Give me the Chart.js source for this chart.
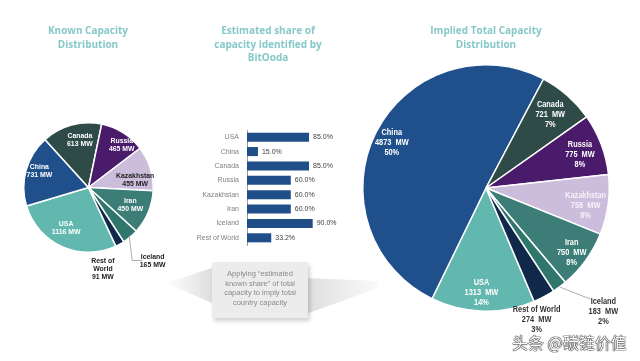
<!DOCTYPE html>
<html lang="en">
<head>
    <meta charset="UTF-8">
    <title>Capacity Distribution</title>
    <script src="https://cdn.jsdelivr.net/npm/chart.js@4.4.0/dist/chart.umd.min.js"></script>
    <style>
        body {
            margin: 0;
            background: #ffffff;
        }
        #wrap {
            position: relative;
            width: 640px;
            height: 361px;
            overflow: hidden;
            background: #ffffff;
        }
        #wrap canvas, #wrap svg {
            position: absolute;
            left: 0;
            top: 0;
        }
        .title {
            position: absolute;
            width: 200px;
            text-align: center;
            font-family: 'Open Sans', sans-serif;
            font-weight: bold;
            font-size: 10px;
            line-height: 13.5px;
            color: #86c8c8;
        }
        .callout {
            position: absolute;
            left: 212px;
            top: 262px;
            width: 96px;
            height: 56px;
            background: #ececec;
            box-shadow: 2px 3px 4px rgba(0, 0, 0, 0.18);
            box-sizing: border-box;
            padding-top: 7px;
            text-align: center;
            font-family: 'Liberation Sans', Arial, sans-serif;
            font-size: 7.5px;
            line-height: 9.7px;
            color: #8a8a8a;
        }
        .watermark {
            position: absolute;
            left: 512px;
            top: 330px;
            font-family: 'Noto Sans CJK SC', sans-serif;
            font-size: 16px;
            color: #ffffff;
            text-shadow: 0 0 1px #000, 0 0 1px #000, 0 0 1px #000;
            white-space: nowrap;
        }
    </style>
</head>
<body>
<div id="wrap">
    <svg width="640" height="361">
        <defs>
            <linearGradient id="gl" x1="0" x2="1" y1="0" y2="0">
                <stop offset="0" stop-color="#000" stop-opacity="0"/>
                <stop offset="1" stop-color="#000" stop-opacity="0.13"/>
            </linearGradient>
            <linearGradient id="gr" x1="0" x2="1" y1="0" y2="0">
                <stop offset="0" stop-color="#000" stop-opacity="0.13"/>
                <stop offset="1" stop-color="#000" stop-opacity="0.02"/>
            </linearGradient>
        </defs>
        <polygon points="166,283 212,268 212,303" fill="url(#gl)"/>
        <polygon points="306,278 378,281 378,288 306,314" fill="url(#gr)"/>
    </svg>
    <canvas id="shareChart" width="640" height="361"></canvas>
    <canvas id="knownPie" width="640" height="361"></canvas>
    <canvas id="impliedPie" width="640" height="361"></canvas>

    <div class="title" style="left:-12px; top:24px;">Known Capacity<br>Distribution</div>
    <div class="title" style="left:168px; top:24px;">Estimated share of<br>capacity identified by<br>BitOoda</div>
    <div class="title" style="left:386px; top:24px;">Implied Total Capacity<br>Distribution</div>

    <div class="callout">Applying “estimated<br>known share” of total<br>capacity to imply total<br>country capacity</div>
    <div class="watermark">头条 @碳链价值</div>
</div>

<script>
    // data
    const countries = ['USA', 'China', 'Canada', 'Russia', 'Kazakhstan', 'Iran', 'Iceland', 'Rest of World'];
    const knownMW = [1116, 731, 613, 465, 455, 450, 165, 91];
    const knownShare = [85.0, 15.0, 85.0, 60.0, 60.0, 60.0, 90.0, 33.2];
    const impliedMW = [1313, 4873, 721, 775, 758, 750, 183, 274];
    const impliedPct = [14, 50, 7, 8, 8, 8, 2, 3];

    const sliceColors = ['#62b8ae', '#20508c', '#2e4b48', '#4a1a6b', '#cbbddb', '#3d7d77', '#2f766d', '#10284a'];
    const barColor = '#1f4e89';
    const labelFont = "'Liberation Sans', Arial, sans-serif";

    Chart.defaults.animation = false;
    Chart.defaults.responsive = false;
    Chart.defaults.devicePixelRatio = 1;
    Chart.defaults.plugins.legend.display = false;
    Chart.defaults.plugins.tooltip.enabled = false;

    // draws the text inside / next to each slice
    function makeSliceLabels(cfg) {
        return {
            id: 'sliceLabels',
            afterDatasetsDraw(chart) {
                const ctx = chart.ctx;
                const arcs = chart.getDatasetMeta(0).data;
                arcs.forEach((arc, i) => {
                    const p = arc.getProps(['x', 'y', 'startAngle', 'endAngle', 'outerRadius'], true);
                    const place = cfg.place[i];
                    const mid = (p.startAngle + p.endAngle) / 2 + place[1] * Math.PI / 180;
                    const lx = p.x + Math.cos(mid) * p.outerRadius * place[0];
                    const ly = p.y + Math.sin(mid) * p.outerRadius * place[0];
                    const lines = cfg.lines[i];

                    ctx.save();
                    ctx.font = cfg.font;
                    ctx.fillStyle = cfg.colors[i];
                    ctx.textAlign = 'center';
                    ctx.textBaseline = 'middle';
                    ctx.translate(lx, ly);
                    ctx.scale(cfg.squeeze, 1);
                    lines.forEach((t, k) => {
                        ctx.fillText(t, 0, (k - (lines.length - 1) / 2) * cfg.lineHeight);
                    });
                    ctx.restore();

                    // leader line for the small slices
                    if (cfg.leader && cfg.leader.index === i) {
                        const am = (p.startAngle + p.endAngle) / 2;
                        const sx = p.x + Math.cos(am) * p.outerRadius * cfg.leader.from;
                        const sy = p.y + Math.sin(am) * p.outerRadius * cfg.leader.from;
                        ctx.save();
                        ctx.strokeStyle = '#9a9a9a';
                        ctx.lineWidth = 0.8;
                        ctx.beginPath();
                        ctx.moveTo(sx, sy);
                        if (cfg.leader.type === 'elbow') {
                            ctx.lineTo(sx + 3, ly);
                            ctx.lineTo(lx - 10, ly);
                        } else {
                            ctx.lineTo(lx - 13, ly - 12);
                        }
                        ctx.stroke();
                        ctx.restore();
                    }
                });
            }
        };
    }

    function pieConfig(values, rotation, padding, labels) {
        return {
            type: 'pie',
            data: {
                labels: countries,
                datasets: [{
                    data: values,
                    backgroundColor: sliceColors,
                    borderColor: '#ffffff',
                    borderWidth: 1.5
                }]
            },
            options: {
                rotation: rotation,
                layout: { padding: padding },
                events: []
            },
            plugins: [labels]
        };
    }

    // Known capacity pie
    const knownLines = countries.map((c, i) =>
        c === 'Rest of World' ? ['Rest of', 'World', knownMW[i] + ' MW'] : [c, knownMW[i] + ' MW']);
    new Chart(document.getElementById('knownPie'), pieConfig(knownMW, 155,
        { left: 23, right: 486, top: 122, bottom: 108 },
        makeSliceLabels({
            lines: knownLines,
            font: 'bold 8px ' + labelFont,
            squeeze: 0.86,
            lineHeight: 8,
            colors: ['#fff', '#fff', '#fff', '#fff', '#222', '#fff', '#222', '#222'],
            place: [[0.71, 5], [0.8, 3], [0.75, 5], [0.83, 6], [0.73, 8], [0.7, 0], [1.5, -1], [1.28, 19]],
            leader: { index: 6, from: 0.97, type: 'elbow' }
        })));

    // Implied total capacity pie
    const impliedLines = countries.map((c, i) => [c, impliedMW[i] + '  MW', impliedPct[i] + '%']);
    new Chart(document.getElementById('impliedPie'), pieConfig(impliedMW, 157,
        { left: 362, right: 30, top: 64, bottom: 49 },
        makeSliceLabels({
            lines: impliedLines,
            font: 'bold 9px ' + labelFont,
            squeeze: 0.82,
            lineHeight: 10,
            colors: ['#fff', '#fff', '#fff', '#fff', '#f6f2fa', '#fff', '#333', '#333'],
            place: [[0.85, 1], [0.85, -1], [0.79, 0], [0.81, 1], [0.82, 2], [0.87, 1], [1.38, -7], [1.14, 7]],
            leader: { index: 6, from: 1.0, type: 'straight' }
        })));

    // Estimated share bar chart
    const shareLabels = {
        id: 'shareLabels',
        afterDatasetsDraw(chart) {
            const ctx = chart.ctx;
            ctx.save();
            ctx.font = '7px ' + labelFont;
            ctx.fillStyle = '#404040';
            ctx.textAlign = 'left';
            ctx.textBaseline = 'middle';
            chart.getDatasetMeta(0).data.forEach((bar, i) => {
                ctx.fillText(knownShare[i].toFixed(1) + '%', bar.x + 4, bar.y);
            });
            ctx.restore();
        }
    };

    new Chart(document.getElementById('shareChart'), {
        type: 'bar',
        data: {
            labels: countries,
            datasets: [{
                data: knownShare,
                backgroundColor: barColor,
                barPercentage: 0.63,
                categoryPercentage: 1
            }]
        },
        options: {
            indexAxis: 'y',
            events: [],
            layout: { padding: { left: 150, right: 320, top: 130, bottom: 116 } },
            scales: {
                x: { display: false, min: 0, max: 100 },
                y: {
                    afterFit(scale) { scale.width = 97; },
                    grid: { display: false, drawTicks: false },
                    border: { display: true, color: '#9a9a9a', width: 1 },
                    ticks: {
                        padding: 8,
                        color: '#808080',
                        font: { family: labelFont, size: 7 }
                    }
                }
            }
        },
        plugins: [shareLabels]
    });
</script>
</body>
</html>
